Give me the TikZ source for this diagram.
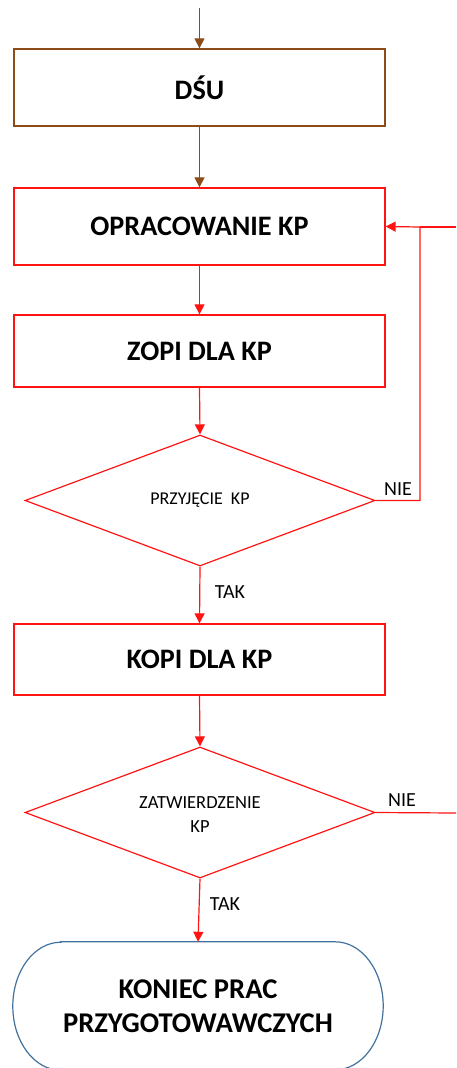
\documentclass[tikz,border=0pt]{standalone}
\usepackage{fontspec}
\setmainfont{Carlito}[BoldFont={Carlito Bold}]
\usetikzlibrary{shapes.geometric,arrows.meta}
\definecolor{brn}{RGB}{139,76,26}
\definecolor{fred}{RGB}{255,20,20}
\definecolor{tblue}{RGB}{65,113,156}
\tikzset{
  procbox/.style={draw, rectangle, line width=1.3pt, minimum width=371pt, inner sep=0pt,
    font=\fontsize{28.2}{32}\selectfont\bfseries},
  decbox/.style={draw=fred, diamond, line width=1.2pt, minimum width=350pt, minimum height=131pt,
    inner sep=0pt, align=center},
  arr/.style={line width=1.2pt, -{Triangle[length=10pt,width=10pt]}},
  ln/.style={line width=1.2pt},
  lbl/.style={font=\fontsize{20}{24}\selectfont, inner sep=0pt},
}
\begin{document}
\begin{tikzpicture}[x=1pt,y=-1pt]
\clip (0,0) rectangle (456,1068);
% nodes
\node[procbox, draw=brn, minimum height=77pt] (dsu) at (199.5,87.5) {DŚU};
\node[procbox, draw=fred, minimum height=77pt] (opr) at (199.5,226.5) {OPRACOWANIE KP};
\node[procbox, draw=fred, minimum height=72pt] (zopi) at (199.5,351) {ZOPI DLA KP};
\node[decbox, font=\fontsize{18}{20}\selectfont] (d1) at (200,500.5) {PRZYJĘCIE\ \ KP};
\node[procbox, draw=fred, minimum height=71pt] (kopi) at (199.5,659.5) {KOPI DLA KP};
\node[decbox] (d2) at (200,812.5) {};
\node[align=center, inner sep=0pt, font=\fontsize{18.5}{24}\selectfont] (d2t) at (200,815) {ZATWIERDZENIE\\KP};
\node[minimum width=370pt, minimum height=128pt, inner sep=0pt, align=center,
  font=\fontsize{28.6}{34}\selectfont\bfseries] (end) at (198,1006) {KONIEC PRAC\\PRZYGOTOWAWCZYCH};
\draw[tblue, line width=1.2pt] ([xshift=48pt]end.north west) -- ([xshift=-48pt]end.north east)
  arc[start angle=90, end angle=-90, x radius=48pt, y radius=64pt]
  -- ([xshift=48pt]end.south west)
  arc[start angle=270, end angle=90, x radius=48pt, y radius=64pt] -- cycle;
% free ends
\coordinate (top) at (199.5,8);
\coordinate (rin) at (456,227);
\coordinate (rout) at (456,813);
\coordinate (loopc) at (420,227);
% connectors
\draw[arr, brn] (top) -- (dsu.north);
\draw[arr, brn] (dsu.south) -- (opr.north);
\draw[arr, fred] (opr.south) -- (zopi.north);
\draw[arr, fred] (zopi.south) -- (d1.north);
\draw[arr, fred] (d1.east) -| (loopc) -- (opr.east);
\draw[ln, fred] (rin) -- (loopc);
\draw[arr, fred] (d1.south) -- (kopi.north);
\draw[arr, fred] (kopi.south) -- (d2.north);
\draw[ln, fred] (d2.east) -- (rout);
\draw[arr, fred] (d2.south) -- (end.north);
% labels
\node[lbl] (nie1) at (398,489) {NIE};
\node[lbl] (tak1) at (230,592) {TAK};
\node[lbl] (nie2) at (402,800) {NIE};
\node[lbl] (tak2) at (225,904) {TAK};
\end{tikzpicture}
\end{document}
